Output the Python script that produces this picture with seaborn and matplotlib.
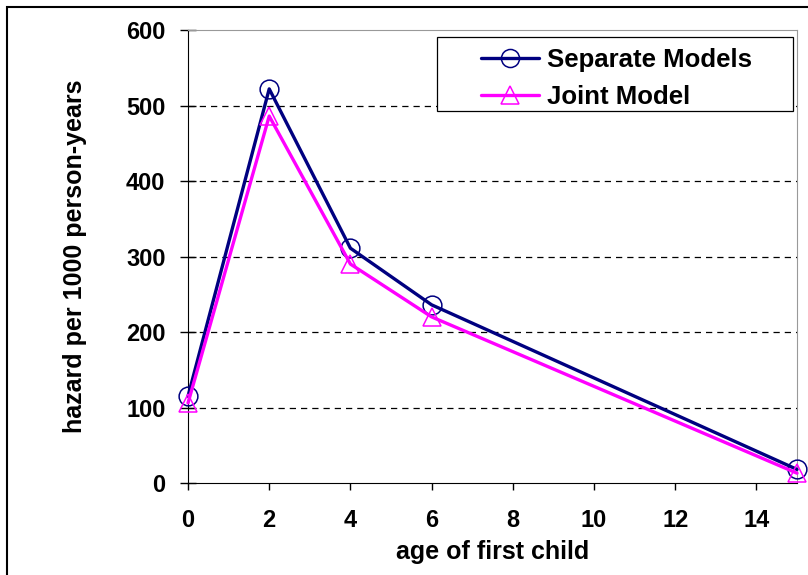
import seaborn as sns
import matplotlib.pyplot as plt
from matplotlib.patches import Rectangle
import pandas as pd

# data
ages = [0, 2, 4, 6, 15]
separate_models = [115, 522, 311, 236, 18]
joint_model = [106, 486, 290, 220, 13]
x_ticks = [0, 2, 4, 6, 8, 10, 12, 14]
y_ticks = [0, 100, 200, 300, 400, 500, 600]

df = pd.DataFrame({
    "age": ages * 2,
    "hazard": separate_models + joint_model,
    "model": ["Separate Models"] * len(ages) + ["Joint Model"] * len(ages),
})

sns.set_style("white")
plt.rcParams["font.family"] = ["Liberation Sans", "DejaVu Sans"]
plt.rcParams["font.weight"] = "bold"
for key in ["text.color", "axes.labelcolor", "xtick.color", "ytick.color"]:
    plt.rcParams[key] = "black"

fig = plt.figure(figsize=(8.08, 5.75), dpi=100)
ax = fig.add_axes([0.2327, 0.16, 0.7537, 0.7878])

# outer chart border (Excel style)
fig.patches.append(Rectangle((0.0087, -0.1), 1.2, 1.0878, transform=fig.transFigure,
                             fill=False, edgecolor="black", linewidth=1.5))

palette = {"Separate Models": "#000080", "Joint Model": "#FF00FF"}
markers = {"Separate Models": "o", "Joint Model": "^"}
sns.lineplot(data=df, x="age", y="hazard", hue="model", style="model",
             palette=palette, markers=markers, dashes=False, linewidth=2.4,
             markersize=13.5, ax=ax, clip_on=False, zorder=3)

# hollow markers
for line in ax.get_lines():
    line.set_markeredgecolor(line.get_color())
    line.set_markerfacecolor("none")
    line.set_markeredgewidth(1.1)

ax.set_xlim(0, 15)
ax.set_ylim(0, 600)
ax.set_xticks(x_ticks)
ax.set_yticks(y_ticks)
for y in y_ticks[1:-1]:
    ax.axhline(y, color="black", linestyle=(0, (5, 4)), linewidth=0.9, zorder=0)

ax.spines["top"].set_color("#999999")
ax.spines["right"].set_color("#999999")
ax.spines["left"].set_color("black")
ax.spines["bottom"].set_color("black")
ax.tick_params(axis="x", bottom=True, direction="out", length=5, width=1,
               labelsize=17, pad=13.5)
ax.tick_params(axis="y", left=True, direction="inout", length=11.5, width=1,
               labelsize=17, pad=10.5)
for lbl in ax.get_xticklabels() + ax.get_yticklabels():
    lbl.set_fontweight("bold")

ax.set_xlabel("age of first child", fontsize=18, fontweight="bold", labelpad=6)
ax.set_ylabel("hazard per 1000 person-years", fontsize=18, fontweight="bold", labelpad=28)

# legend: frame drawn separately to get Excel's wide side padding
handles, labels = ax.get_legend_handles_labels()
leg = ax.legend(handles, labels, loc="center", bbox_to_anchor=(0.763, 0.864),
                bbox_transform=fig.transFigure, fontsize=18.5, frameon=False,
                borderpad=0, handlelength=2.25, handletextpad=0.3, labelspacing=0.5)
for t in leg.get_texts():
    t.set_fontweight("bold")
for h in leg.legend_handles:
    h.set_markersize(13)
    h.set_linewidth(2.4)
    h.set_markeredgewidth(1.1)
leg.set_zorder(6)
ax.add_patch(Rectangle((0.5408, 0.807), 0.4406, 0.1287, transform=fig.transFigure,
                       facecolor="white", edgecolor="black", linewidth=0.9,
                       zorder=5, clip_on=False))

fig.savefig("out.png", dpi=100)
